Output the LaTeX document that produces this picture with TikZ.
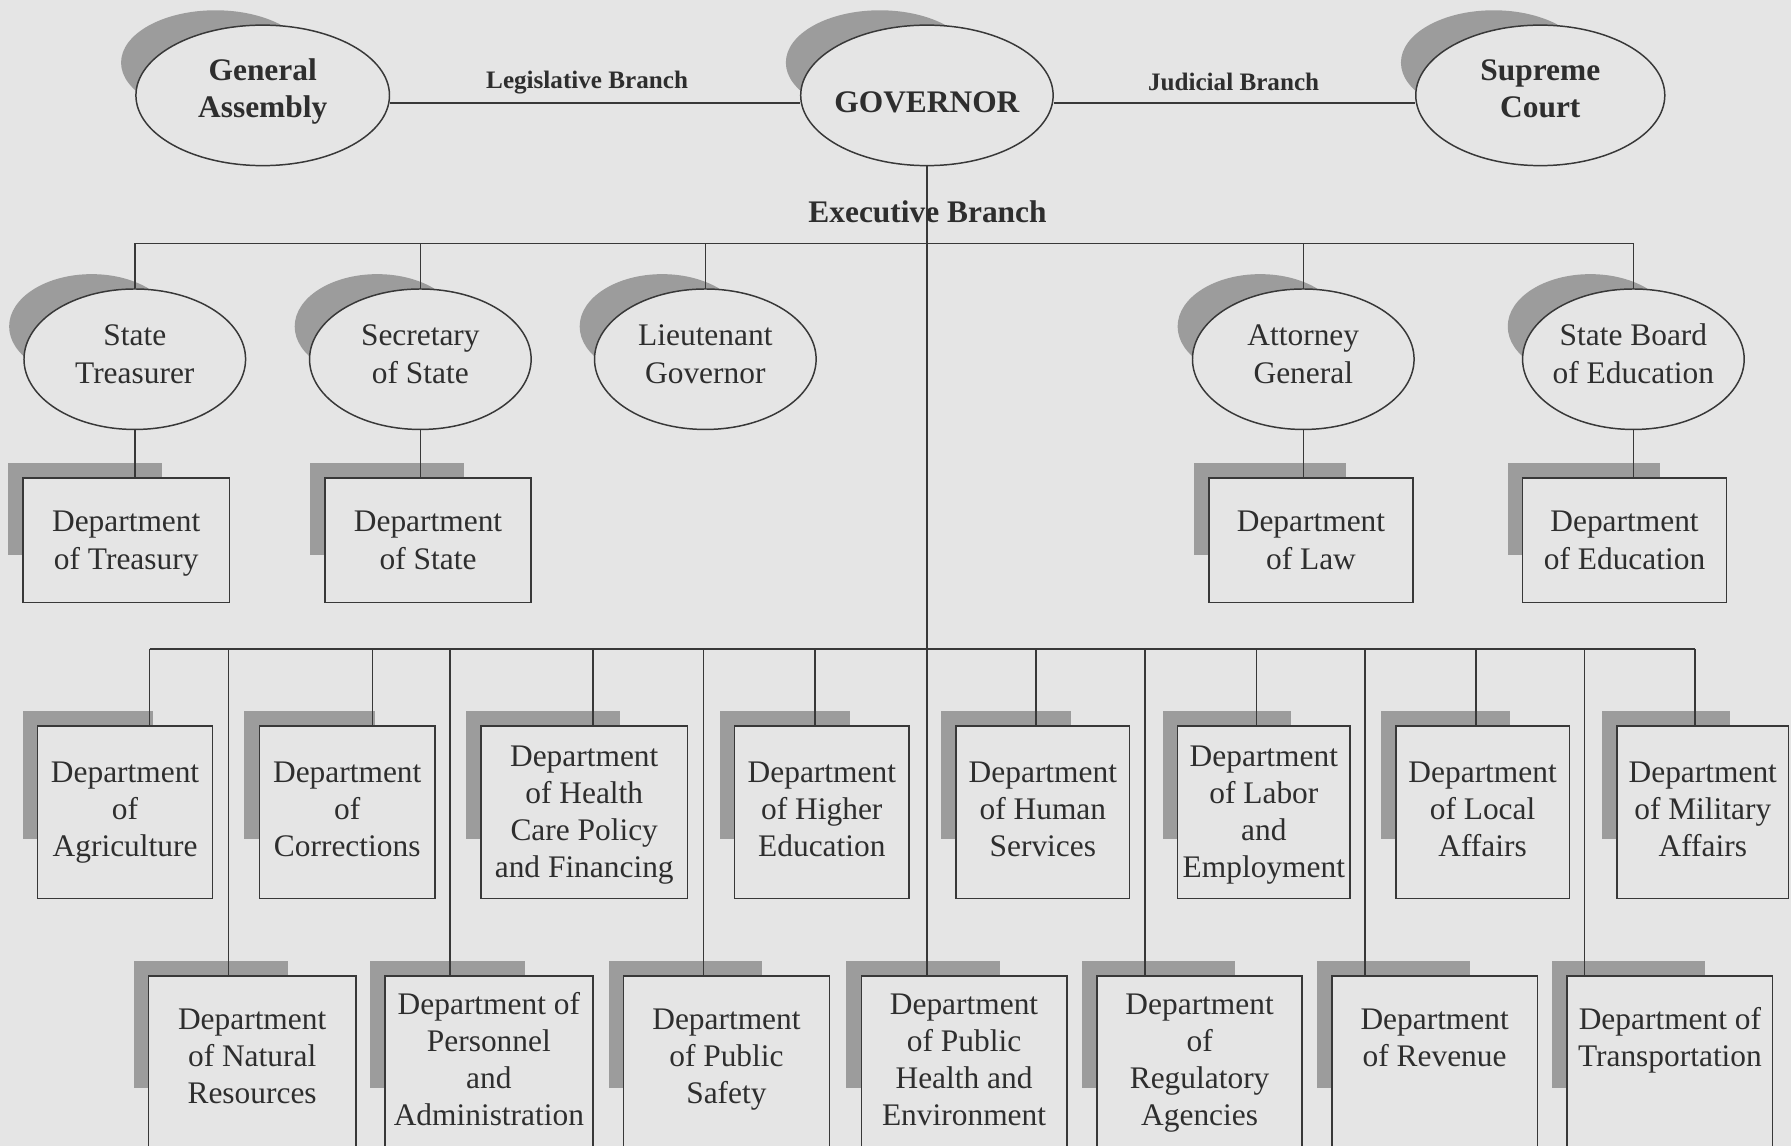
\documentclass[tikz,border=0pt]{standalone}
\usepackage{fontspec}
\setmainfont{Liberation Serif}
\usetikzlibrary{shapes.geometric,calc}
\definecolor{bgc}{HTML}{E5E5E5}
\definecolor{linec}{HTML}{383838}
\definecolor{textc}{HTML}{2E2E2E}
\definecolor{shadowc}{HTML}{9C9C9C}
\tikzset{
  conn/.style={draw=linec, line width=1.3pt},
  oval/.style={shape=ellipse, draw=linec, fill=bgc, line width=1.3pt, inner sep=0pt, text=textc,
    font=\fontsize{27.5}{33}\selectfont},
  boldoval/.style={oval, font=\fontsize{27.5}{33}\selectfont\bfseries},
  dept/.style={shape=rectangle, draw=linec, fill=bgc, line width=1.3pt, inner sep=0pt, text=textc,
    font=\fontsize{27.5}{32.5}\selectfont},
  branch/.style={text=textc, inner sep=0pt, font=\fontsize{22}{26}\selectfont\bfseries},
  bigbranch/.style={text=textc, inner sep=0pt, font=\fontsize{27.5}{33}\selectfont\bfseries},
}
% #1 style, #2 name, #3 cx, #4 cy, #5 rx, #6 ry, #7 text, #8 text raise
\newcommand\OvalNode[8]{%
  \fill[shadowc] ({#3-#5-13+0.745*#5},{#4-#6-13+0.745*#6}) ellipse [x radius={0.745*#5}, y radius={0.745*#6}];
  \node[#1, minimum width={2*#5pt}, minimum height={2*#6pt}] (#2) at (#3,#4)
    {\makebox[0pt]{\raisebox{#8}[\height][\depth]{\begin{tabular}{@{}c@{}}#7\end{tabular}}}};
}
% #1 name, #2 left, #3 top, #4 right, #5 bottom, #6 text, #7 text raise
\newcommand\DeptNode[7]{%
  \fill[shadowc] ({#2-13},{#3-13}) rectangle ({#2-13+0.745*(#4-#2)},{#3-13+0.74*(#5-#3)});
  \node[dept, minimum width={(#4-#2)*1pt}, minimum height={(#5-#3)*1pt}] (#1) at ({(#2+#4)/2},{(#3+#5)/2})
    {\raisebox{#7}[\height][\depth]{\begin{tabular}{@{}c@{}}#6\end{tabular}}};
}
\begin{document}
\begin{tikzpicture}[x=1pt,y=-1pt]
\useasboundingbox (0,0) rectangle (1568,1003);
\clip (0,0) rectangle (1568,1003);
\fill[bgc] (0,0) rectangle (1568,1003);

% top row
\OvalNode{boldoval}{ga}{230}{83.5}{111}{61.5}{General\\Assembly}{3.5pt}
\OvalNode{boldoval}{gov}{811.5}{83.5}{110.5}{61.5}{GOVERNOR}{-8.3pt}
\OvalNode{boldoval}{sc}{1348.5}{83.5}{109}{61.5}{Supreme\\Court}{3.5pt}

% second row ellipses
\OvalNode{oval}{tre}{118}{314.5}{97}{61.5}{State\\Treasurer}{2pt}
\OvalNode{oval}{sec}{368}{314.5}{97}{61.5}{Secretary\\of State}{2pt}
\OvalNode{oval}{lt}{617.5}{314.5}{97}{61.5}{Lieutenant\\Governor}{2pt}
\OvalNode{oval}{ag}{1141}{314.5}{97}{61.5}{Attorney\\General}{2pt}
\OvalNode{oval}{sbe}{1430}{314.5}{97}{61.5}{State Board\\of Education}{2pt}

% second row boxes
\DeptNode{dtre}{20}{418.5}{201}{527.5}{Department\\of Treasury}{-2.5pt}
\DeptNode{dsec}{284.5}{418.5}{465}{527.5}{Department\\of State}{-2.5pt}
\DeptNode{dlaw}{1058.5}{418.5}{1237}{527.5}{Department\\of Law}{-2.5pt}
\DeptNode{dedu}{1333}{418.5}{1511.5}{527.5}{Department\\of Education}{-2.5pt}

% third row boxes
\DeptNode{agr}{33}{635.5}{186}{786.5}{Department\\of\\Agriculture}{0pt}
\DeptNode{cor}{227}{635.5}{381}{786.5}{Department\\of\\Corrections}{0pt}
\DeptNode{hcp}{421}{635.5}{602}{786.5}{Department\\of Health\\Care Policy\\and Financing}{-2pt}
\DeptNode{hed}{643}{635.5}{796}{786.5}{Department\\of Higher\\Education}{0pt}
\DeptNode{hum}{837}{635.5}{989}{786.5}{Department\\of Human\\Services}{0pt}
\DeptNode{lab}{1031}{635.5}{1182}{786.5}{Department\\of Labor\\and\\Employment}{-2pt}
\DeptNode{loc}{1222}{635.5}{1374}{786.5}{Department\\of Local\\Affairs}{0pt}
\DeptNode{mil}{1415.5}{635.5}{1566}{786.5}{Department\\of Military\\Affairs}{0pt}

% fourth row boxes
\DeptNode{nat}{130}{854.5}{311.5}{1004.5}{Department\\of Natural\\Resources}{2pt}
\DeptNode{per}{337}{854.5}{519}{1004.5}{Department of\\Personnel\\and\\Administration}{-1pt}
\DeptNode{pus}{546}{854.5}{726}{1004.5}{Department\\of Public\\Safety}{2pt}
\DeptNode{phe}{754}{854.5}{934}{1004.5}{Department\\of Public\\Health and\\Environment}{-1pt}
\DeptNode{reg}{960.5}{854.5}{1140}{1004.5}{Department\\of\\Regulatory\\Agencies}{-1pt}
\DeptNode{rev}{1166}{854.5}{1346}{1004.5}{Department\\of Revenue\\\mbox{}}{2pt}
\DeptNode{tra}{1372}{854.5}{1552}{1004.5}{Department of\\Transportation\\\mbox{}}{2pt}

% branch labels
\node[branch] (leg) at (514,72) {Legislative Branch};
\node[branch] (jud) at (1080,72) {Judicial Branch};

% connectors top
\draw[conn] ($(ga.east)+(0,6.5)$) -- ($(gov.west)+(0,6.5)$);
\draw[conn] ($(gov.east)+(0,6.5)$) -- ($(sc.west)+(0,6.5)$);
\draw[conn] (gov.south) -- (gov.south |- phe.north);

% executive bus
\coordinate (ebus) at (0,213);
\draw[conn] (tre.north) -- (tre.north |- ebus) -- (sbe.north |- ebus) -- (sbe.north);
\draw[conn] (sec.north) -- (sec.north |- ebus);
\draw[conn] (lt.north) -- (lt.north |- ebus);
\draw[conn] (ag.north) -- (ag.north |- ebus);

% ellipse to box
\draw[conn] (tre.south) -- (tre.south |- dtre.north);
\draw[conn] (sec.south) -- (sec.south |- dsec.north);
\draw[conn] (ag.south) -- (ag.south |- dlaw.north);
\draw[conn] (sbe.south) -- (sbe.south |- dedu.north);

% department bus
\coordinate (xagr) at (131,568);
\coordinate (xnat) at (200,568);
\coordinate (xcor) at (326,568);
\coordinate (xper) at (394,568);
\coordinate (xhcp) at (519,568);
\coordinate (xpus) at (616,568);
\coordinate (xhed) at (713.5,568);
\coordinate (xhum) at (907,568);
\coordinate (xreg) at (1002.5,568);
\coordinate (xlab) at (1100,568);
\coordinate (xrev) at (1195,568);
\coordinate (xloc) at (1292,568);
\coordinate (xtra) at (1387,568);
\coordinate (xmil) at (1484,568);
\draw[conn] (xagr) -- (xmil);
\foreach \n in {agr,nat,cor,per,hcp,pus,hed,hum,reg,lab,rev,loc,tra,mil}{
  \draw[conn] (x\n) -- (x\n |- \n.north);
}

\node[bigbranch] (exe) at (812,185) {Executive Branch};
\end{tikzpicture}
\end{document}
